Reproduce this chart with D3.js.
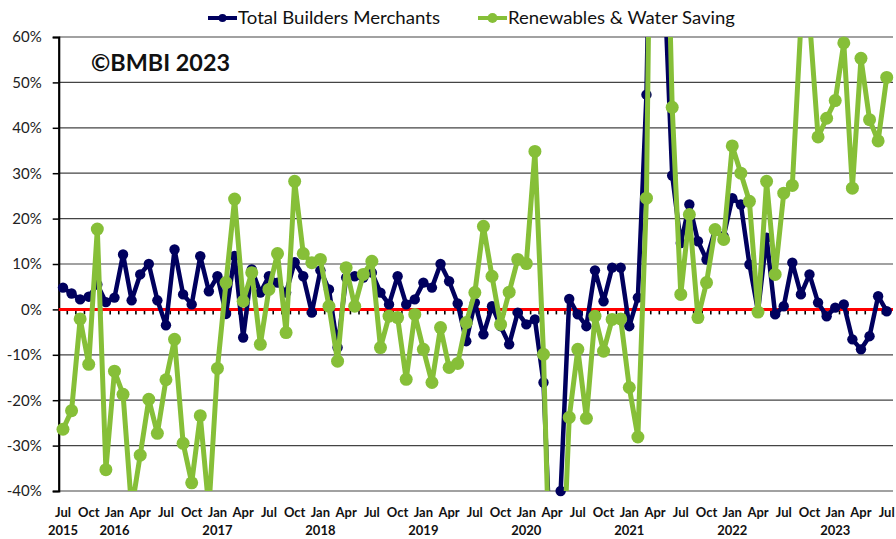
<!DOCTYPE html>
<html>
<head>
<meta charset="utf-8">
<script src="https://cdn.jsdelivr.net/npm/d3@7"></script>
<style>
  body { margin: 0; background: #fff; }
  svg { display: block; font-family: Lato, "Open Sans", sans-serif; }
</style>
</head>
<body>
<div id="chart"></div>
<script>
// monthly YoY change (%), Jul 2015 .. Jul 2023
var totalBM = [
  4.8, 3.5, 2.2, 2.8, 5.5, 1.6, 2.6, 12.1, 2.0, 7.7, 10.0, 2.0,
  -3.5, 13.2, 3.3, 1.1, 11.7, 4.0, 7.3, -1.0, 11.8, -6.2, 8.8, 3.7,
  7.3, 5.9, 3.7, 10.4, 7.3, -0.7, 8.6, 4.4, -8.4, 7.0, 7.3, 7.0,
  8.1, 3.7, 1.1, 7.3, 1.1, 2.2, 5.9, 4.8, 10.0, 6.2, 1.3, -7.0,
  1.5, -5.5, 0.7, -3.7, -7.7, -0.7, -3.3, -2.2, -16.1, -62, -40, 2.3,
  -1.1, -3.7, 8.6, 1.8, 9.2, 9.2, -3.7, 2.6, 47.3, 150, 76, 29.5,
  14.6, 23.1, 15.0, 11.0, 17.6, 16.1, 24.5, 23.1, 9.9, -0.4, 15.8, -1.1,
  0.7, 10.3, 3.3, 7.7, 1.5, -1.5, 0.4, 1.1, -6.6, -8.8, -5.9, 2.9,
  -0.4
];
var renewables = [
  -26.4, -22.3, -2.1, -12.1, 17.7, -35.3, -13.6, -18.7, -44, -32.1, -19.8, -27.3,
  -15.5, -6.6, -29.5, -38.2, -23.4, -44, -13.0, 5.9, 24.3, 1.8, 8.1, -7.7,
  4.4, 12.3, -5.1, 28.2, 12.3, 10.3, 11.0, 0.7, -11.4, 9.2, 0.7, 7.7,
  10.6, -8.4, -1.5, -1.8, -15.4, -1.1, -8.8, -16.1, -4.0, -12.8, -11.9, -2.9,
  3.7, 18.3, 7.3, -3.3, 3.8, 11.0, 10.1, 34.8, -9.9, -79, -70, -23.8,
  -8.8, -24.0, -1.5, -9.2, -2.2, -2.1, -17.2, -28.1, 24.5, 180, 120, 44.5,
  3.3, 20.9, -1.8, 5.9, 17.6, 15.4, 36.0, 30.0, 23.8, -0.6, 28.2, 7.7,
  25.6, 27.3, 63, 64, 38.0, 42.1, 46.0, 58.7, 26.7, 55.3, 41.8, 37.1,
  51.1
];
var seriesNames = ["Total Builders Merchants", "Renewables & Water Saving"];
var monthNames = ["Jan","Feb","Mar","Apr","May","Jun","Jul","Aug","Sep","Oct","Nov","Dec"];
var yTicks = [60, 50, 40, 30, 20, 10, 0, -10, -20, -30, -40];

// categories: Jul 2015 .. Jul 2023
var categories = [];
for (var k = 0; k < totalBM.length; k++) {
  var m = (6 + k) % 12, y = 2015 + Math.floor((6 + k) / 12);
  categories.push({ key: k, month: monthNames[m], year: y });
}

var W = 896, H = 539;
var plot = { left: 58.7, right: 891, top: 37, bottom: 491 };

var svg = d3.select("#chart").append("svg")
  .attr("width", W).attr("height", H);

var xScale = d3.scaleBand()
  .domain(categories.map(function(d) { return d.key; }))
  .range([plot.left, plot.right]);
var xc = function(i) { return xScale(i) + xScale.bandwidth() / 2; };

var yScale = d3.scaleLinear()
  .domain([-40, 60])
  .range([plot.bottom, plot.top]);

// gridlines
svg.append("g").selectAll("line")
  .data(yTicks)
  .enter().append("line")
  .attr("x1", plot.left).attr("x2", plot.right + 2)
  .attr("y1", function(d) { return yScale(d); })
  .attr("y2", function(d) { return yScale(d); })
  .attr("stroke", "#444").attr("stroke-width", 1.2);

// y axis
var yAxis = svg.append("g")
  .attr("transform", "translate(" + plot.left + ",0)")
  .call(d3.axisLeft(yScale).tickValues(yTicks).tickSize(6).tickPadding(11)
    .tickFormat(function(d) { return d + "%"; }));
yAxis.select(".domain").attr("stroke", "#000").attr("stroke-width", 2.2);
yAxis.selectAll(".tick line").attr("stroke", "#000").attr("stroke-width", 1.5);
yAxis.selectAll("text").attr("font-size", "15px").attr("fill", "#222")
  .attr("font-family", "Lato, sans-serif");

// month ticks below zero line
var boundaries = d3.range(1, categories.length);
svg.append("g").selectAll("line")
  .data(boundaries)
  .enter().append("line")
  .attr("x1", function(d) { return xScale(d); })
  .attr("x2", function(d) { return xScale(d); })
  .attr("y1", yScale(0)).attr("y2", yScale(0) + 5)
  .attr("stroke", "#000").attr("stroke-width", 1.6);

// zero line
svg.append("line")
  .attr("x1", plot.left).attr("x2", plot.right + 2)
  .attr("y1", yScale(0)).attr("y2", yScale(0))
  .attr("stroke", "#ff0000").attr("stroke-width", 3);

// x labels every 3 months
var labelled = categories.filter(function(d) { return d.key % 3 === 0; });
svg.append("g").selectAll("text")
  .data(labelled)
  .enter().append("text")
  .attr("x", function(d) { return xc(d.key); })
  .attr("y", 517)
  .attr("text-anchor", "middle")
  .attr("font-size", "13px").attr("font-weight", "bold").attr("fill", "#111")
  .text(function(d) { return d.month; });

svg.append("g").selectAll("text")
  .data(categories.filter(function(d) { return d.key === 0 || d.month === "Jan"; }))
  .enter().append("text")
  .attr("x", function(d) { return xc(d.key); })
  .attr("y", 535)
  .attr("text-anchor", "middle")
  .attr("font-size", "13px").attr("font-weight", "bold").attr("fill", "#111")
  .text(function(d) { return d.year; });

// clip for lines
svg.append("clipPath").attr("id", "plotclip")
  .append("rect")
  .attr("x", plot.left).attr("y", plot.top)
  .attr("width", plot.right - plot.left + 2).attr("height", plot.bottom - plot.top);

var line = d3.line()
  .x(function(d, i) { return xc(i); })
  .y(function(d) { return yScale(d); });

function drawSeries(values, color, lw, r) {
  var g = svg.append("g");
  g.append("path")
    .datum(values)
    .attr("clip-path", "url(#plotclip)")
    .attr("fill", "none")
    .attr("stroke", color)
    .attr("stroke-width", lw)
    .attr("stroke-linejoin", "round")
    .attr("d", line);
  g.selectAll("circle")
    .data(values.map(function(v, i) { return { v: v, i: i }; })
      .filter(function(d) { return d.v >= -40.5 && d.v <= 60.5; }))
    .enter().append("circle")
    .attr("cx", function(d) { return xc(d.i); })
    .attr("cy", function(d) { return yScale(d.v); })
    .attr("r", r)
    .attr("fill", color);
}

var navy = "#00005e", green = "#86bf38";
drawSeries(totalBM, navy, 4.5, 5.2);
drawSeries(renewables, green, 5, 6.5);

// copyright label
svg.append("text")
  .attr("x", 91).attr("y", 71)
  .attr("font-size", "23px").attr("font-weight", "bold").attr("fill", "#111")
  .attr("textLength", 139).attr("lengthAdjust", "spacingAndGlyphs")
  .text("©BMBI 2023");

// legend
var legend = [
  { name: seriesNames[0], color: navy, x: 208, r: 4, w: 202 },
  { name: seriesNames[1], color: green, x: 478, r: 5, w: 227 }
];
var lg = svg.append("g").selectAll("g")
  .data(legend)
  .enter().append("g");
lg.append("line")
  .attr("x1", function(d) { return d.x; })
  .attr("x2", function(d) { return d.x + 29; })
  .attr("y1", 18).attr("y2", 18)
  .attr("stroke", function(d) { return d.color; })
  .attr("stroke-width", 4);
lg.append("circle")
  .attr("cx", function(d) { return d.x + 14.5; })
  .attr("cy", 18)
  .attr("r", function(d) { return d.r; })
  .attr("fill", function(d) { return d.color; });
lg.append("text")
  .attr("x", function(d) { return d.x + 30; })
  .attr("y", 24)
  .attr("font-size", "17.5px").attr("fill", "#111")
  .attr("textLength", function(d) { return d.w; })
  .attr("lengthAdjust", "spacingAndGlyphs")
  .text(function(d) { return d.name; });
</script>
</body>
</html>
